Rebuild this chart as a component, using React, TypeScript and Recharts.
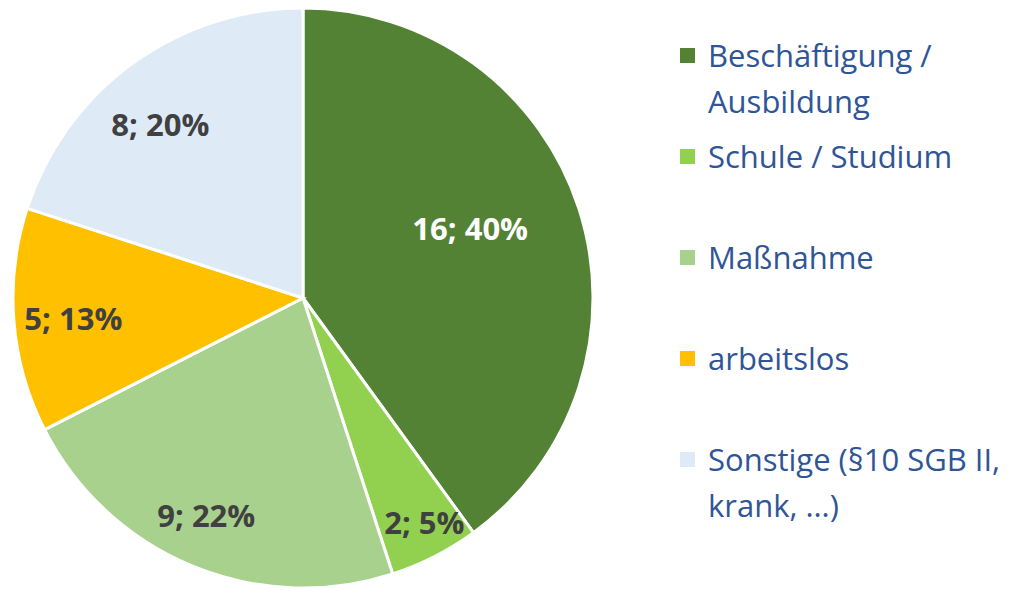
import { PieChart, Pie, Cell, Legend } from 'recharts'

const categories = [
  'Beschäftigung / Ausbildung',
  'Schule / Studium',
  'Maßnahme',
  'arbeitslos',
  'Sonstige (§10 SGB II, krank, …)',
]
const counts = [16, 2, 9, 5, 8]
const percents = [40, 5, 22, 13, 20]

const colors = ['#548235', '#92D050', '#A9D18E', '#FFC000', '#DEEBF7']
const labelColors = ['#FFFFFF', '#404040', '#404040', '#404040', '#404040']
// label placement: share of radius, and a small turn (deg) off the slice middle
const labelRadius = [0.625, 0.88, 0.82, 0.795, 0.775]
const labelTurn = [4.7, 1.4, -1.5, 0.5, 3.4]

const data = categories.map((name, i) => ({ name, value: counts[i], pct: percents[i] }))

const RADIAN = Math.PI / 180
const FONT = '"Open Sans", Lato, sans-serif'

function renderLabel(props: any) {
  const { cx, cy, midAngle, outerRadius, index } = props
  const r = outerRadius * labelRadius[index]
  const a = (midAngle + labelTurn[index]) * RADIAN
  const x = cx + r * Math.cos(-a)
  const y = cy + r * Math.sin(-a)
  return (
    <text
      x={x}
      y={y}
      fill={labelColors[index]}
      textAnchor="middle"
      dominantBaseline="central"
      fontFamily={FONT}
      fontWeight={700}
      fontSize={31}
    >
      {`${counts[index]}; ${percents[index]}%`}
    </text>
  )
}

// legend keeps the data order (recharts would sort it by name otherwise)
function LegendContent() {
  return (
    <div style={{ fontFamily: FONT, fontSize: 31, color: '#2F5597' }}>
      {categories.map((name, i) => (
        <div key={name} style={{ display: 'flex', alignItems: 'flex-start', height: 101 }}>
          <div
            style={{
              width: 15,
              height: 15,
              background: colors[i],
              marginTop: 16,
              marginRight: 13,
              flexShrink: 0,
            }}
          />
          <div style={{ lineHeight: '46px', width: 315 }}>{name}</div>
        </div>
      ))}
    </div>
  )
}

export default function App() {
  return (
    <div style={{ position: 'absolute', left: 0, top: 0, background: '#fff' }}>
      <PieChart width={1020} height={590} margin={{ top: 0, right: 0, bottom: 0, left: 0 }}>
        <Pie
          data={data}
          dataKey="value"
          nameKey="name"
          cx={303}
          cy={298}
          outerRadius={290}
          startAngle={90}
          endAngle={-270}
          stroke="#FFFFFF"
          strokeWidth={3}
          label={renderLabel}
          labelLine={false}
          isAnimationActive={false}
        >
          {data.map((_, i) => (
            <Cell key={i} fill={colors[i]} />
          ))}
        </Pie>
        <Legend
          layout="vertical"
          align="right"
          verticalAlign="top"
          content={<LegendContent />}
          wrapperStyle={{ left: 680, top: 32, width: 340 }}
        />
      </PieChart>
    </div>
  )
}
